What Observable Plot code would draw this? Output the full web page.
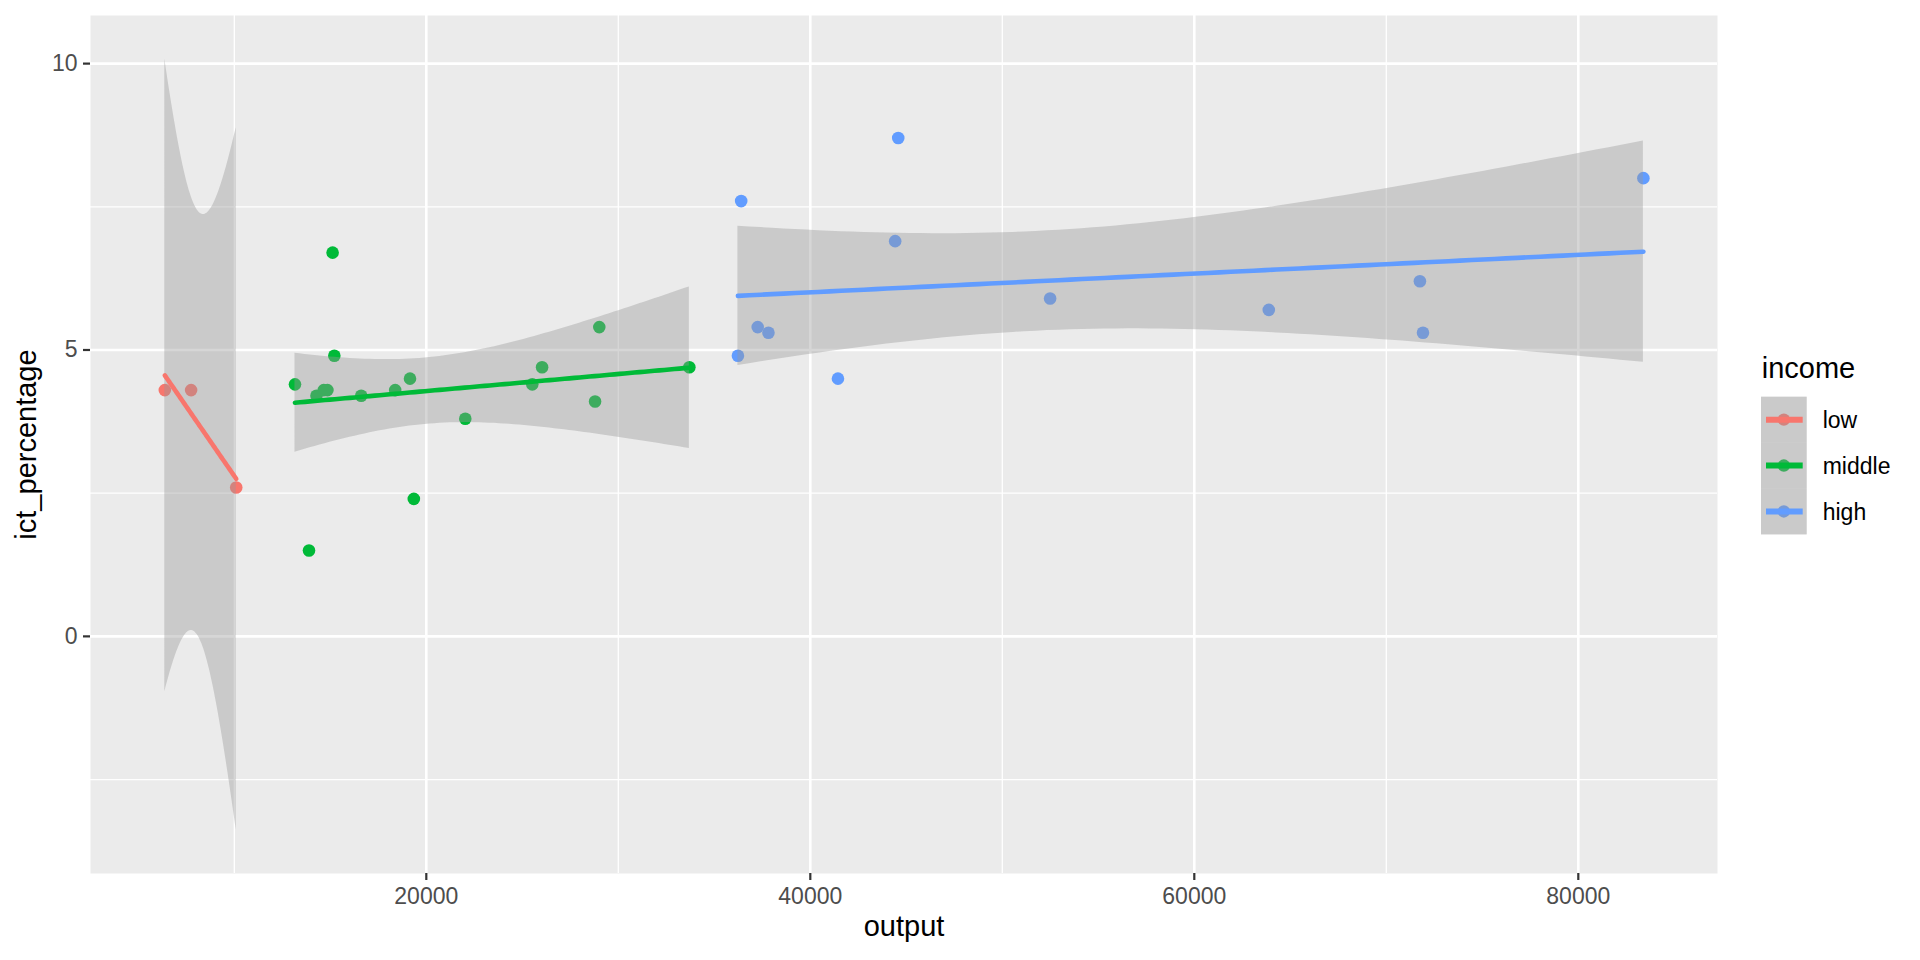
<!DOCTYPE html>
<html><head><meta charset="utf-8">
<script src="https://cdn.jsdelivr.net/npm/d3@7"></script>
<script src="https://cdn.jsdelivr.net/npm/@observablehq/plot@0.6"></script>
<style>
body{margin:0;background:#fff;font-family:"Liberation Sans",Arial,sans-serif;}
#wrap{position:relative;width:1920px;height:960px;}
#legend{position:absolute;left:1740px;top:340px;}
</style></head><body><div id="wrap"></div>
<script>
// ---- data ----
const incomeLevels = ["low", "middle", "high"];
const incomeColors = ["#F8766D", "#00BA38", "#619CFF"];

const lowOutput = [6380, 7750, 10100];
const lowIct = [4.3, 4.3, 2.6];

const middleOutput = [13160, 13890, 14280, 14660, 14850, 15120, 15210, 16610, 18380, 19150, 19350, 22030, 25520, 26030, 28790, 29010, 33700];
const middleIct = [4.4, 1.5, 4.2, 4.3, 4.3, 6.7, 4.9, 4.2, 4.3, 4.5, 2.4, 3.8, 4.4, 4.7, 4.1, 5.4, 4.7];

const highOutput = [36230, 36400, 37260, 37820, 41440, 44420, 44580, 52490, 63880, 71750, 71910, 83390];
const highIct = [4.9, 7.6, 5.4, 5.3, 4.5, 6.9, 8.7, 5.9, 5.7, 6.2, 5.3, 8.0];

const xTicks = [20000, 40000, 60000, 80000];
const xMinor = [10000, 30000, 50000, 70000];
const yTicks = [0, 5, 10];
const yMinor = [-2.5, 2.5, 7.5];

// ---- statistics (lm with 95% confidence band, like geom_smooth(method="lm")) ----
function lgamma(x){
  const c=[0.99999999999980993,676.5203681218851,-1259.1392167224028,771.32342877765313,-176.61502916214059,12.507343278686905,-0.13857109526572012,9.9843695780195716e-6,1.5056327351493116e-7];
  if(x<0.5) return Math.log(Math.PI/Math.sin(Math.PI*x)) - lgamma(1-x);
  x-=1; let a=c[0]; const t=x+7.5;
  for(let i=1;i<9;i++) a+=c[i]/(x+i);
  return 0.5*Math.log(2*Math.PI)+(x+0.5)*Math.log(t)-t+Math.log(a);
}
function betacf(a,b,x){
  const FPMIN=1e-300; let qab=a+b, qap=a+1, qam=a-1, c=1, d=1-qab*x/qap;
  if(Math.abs(d)<FPMIN) d=FPMIN; d=1/d; let h=d;
  for(let m=1;m<=300;m++){
    const m2=2*m;
    let aa=m*(b-m)*x/((qam+m2)*(a+m2));
    d=1+aa*d; if(Math.abs(d)<FPMIN) d=FPMIN; c=1+aa/c; if(Math.abs(c)<FPMIN) c=FPMIN; d=1/d; h*=d*c;
    aa=-(a+m)*(qab+m)*x/((a+m2)*(qap+m2));
    d=1+aa*d; if(Math.abs(d)<FPMIN) d=FPMIN; c=1+aa/c; if(Math.abs(c)<FPMIN) c=FPMIN; d=1/d;
    const del=d*c; h*=del; if(Math.abs(del-1)<3e-14) break;
  }
  return h;
}
function ibeta(x,a,b){
  if(x<=0) return 0; if(x>=1) return 1;
  const bt=Math.exp(lgamma(a+b)-lgamma(a)-lgamma(b)+a*Math.log(x)+b*Math.log(1-x));
  if(x<(a+1)/(a+b+2)) return bt*betacf(a,b,x)/a;
  return 1-bt*betacf(b,a,1-x)/b;
}
function pt(t,df){ const ib=ibeta(df/(df+t*t), df/2, 0.5); return t>0 ? 1-0.5*ib : 0.5*ib; }
function qt(p,df){ let lo=0, hi=1000; for(let i=0;i<120;i++){ const m=(lo+hi)/2; if(pt(m,df)<p) lo=m; else hi=m; } return (lo+hi)/2; }

function fitLm(xs, ys){
  const n=xs.length, mx=d3.mean(xs), my=d3.mean(ys);
  let sxx=0, sxy=0;
  for(let i=0;i<n;i++){ sxx+=(xs[i]-mx)**2; sxy+=(xs[i]-mx)*(ys[i]-my); }
  const b=sxy/sxx, a=my-b*mx;
  let sse=0; for(let i=0;i<n;i++) sse+=(ys[i]-(a+b*xs[i]))**2;
  const df=n-2, s=Math.sqrt(sse/df), t=qt(0.975, df);
  const [x0,x1]=d3.extent(xs);
  return d3.range(80).map(i=>{
    const x=x0+(x1-x0)*i/79, yh=a+b*x, se=s*Math.sqrt(1/n+(x-mx)**2/sxx);
    return {x, y:yh, lo:yh-t*se, hi:yh+t*se};
  });
}

const groups = [
  {income:"low", xs:lowOutput, ys:lowIct},
  {income:"middle", xs:middleOutput, ys:middleIct},
  {income:"high", xs:highOutput, ys:highIct}
];
const points = groups.flatMap(g => g.xs.map((x,i) => ({output:x, ict:g.ys[i], income:g.income})));
const colorOf = k => incomeColors[incomeLevels.indexOf(k)];

const smoothMarks = groups.flatMap(g => {
  const fit = fitLm(g.xs, g.ys);
  return [
    Plot.areaY(fit, {x:"x", y1:"lo", y2:"hi", fill:"#999999", fillOpacity:0.4}),
    Plot.line(fit, {x:"x", y:"y", stroke:colorOf(g.income), strokeWidth:4.6})
  ];
});

const font = '"Liberation Sans", Arial, sans-serif';
const chart = Plot.plot({
  width:1920, height:960,
  marginLeft:90, marginRight:203, marginTop:15, marginBottom:87,
  style:{fontFamily:font, background:"white", overflow:"visible"},
  x:{domain:[2510, 87250], axis:null},
  y:{domain:[-4.14, 10.84], axis:null},
  color:{domain:incomeLevels, range:incomeColors},
  marks:[
    Plot.frame({fill:"#EBEBEB", stroke:"none"}),
    Plot.ruleY(yMinor, {stroke:"white", strokeWidth:1.3}),
    Plot.ruleX(xMinor, {stroke:"white", strokeWidth:1.3}),
    Plot.ruleY(yTicks, {stroke:"white", strokeWidth:2.6}),
    Plot.ruleX(xTicks, {stroke:"white", strokeWidth:2.6}),
    Plot.dot(points, {x:"output", y:"ict", fill:"income", r:6.3}),
    ...smoothMarks,
    Plot.axisX(xTicks, {tickSize:7, tickPadding:7, stroke:"#333333", strokeWidth:2.2, fill:"#4D4D4D", fontSize:23, tickFormat:d=>String(d), label:null}),
    Plot.axisY(yTicks, {tickSize:7, tickPadding:6, stroke:"#333333", strokeWidth:2.2, fill:"#4D4D4D", fontSize:23, tickFormat:d=>String(d), label:null}),
    Plot.text(["output"], {text:d=>d, frameAnchor:"bottom", dy:62, lineAnchor:"bottom", textAnchor:"middle", fontSize:29, fill:"black"}),
    Plot.text(["ict_percentage"], {text:d=>d, frameAnchor:"left", dx:-55, rotate:-90, lineAnchor:"bottom", textAnchor:"middle", fontSize:29, fill:"black"})
  ]
});
const wrap = document.getElementById("wrap");
wrap.appendChild(chart);

// ---- legend ----
const leg = d3.select(wrap).append("svg").attr("id","legend").attr("width",180).attr("height",210)
  .style("font-family", font);
leg.append("text").attr("x",21.7).attr("y",38.3).attr("font-size",29).attr("fill","black").text("income");
leg.append("rect").attr("x",21).attr("y",56.7).attr("width",45.7).attr("height",137.7).attr("fill","#EBEBEB");
incomeLevels.forEach((k,i)=>{
  const cy = 56.7 + 22.95 + i*45.9;
  leg.append("circle").attr("cx",43.85).attr("cy",cy).attr("r",6.2).attr("fill",incomeColors[i]);
  leg.append("rect").attr("x",21).attr("y",cy-22.95).attr("width",45.7).attr("height",45.9).attr("fill","#999999").attr("fill-opacity",0.4);
  leg.append("line").attr("x1",26).attr("x2",62.7).attr("y1",cy).attr("y2",cy).attr("stroke",incomeColors[i]).attr("stroke-width",6);
  leg.append("text").attr("x",82.7).attr("y",cy+8.5).attr("font-size",23).attr("fill","black").text(k);
});
</script></body></html>
